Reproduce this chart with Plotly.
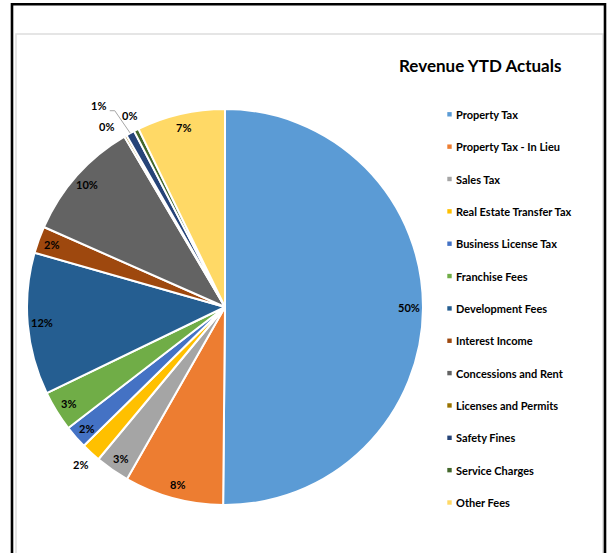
import math
import plotly.graph_objects as go

# ---------------- data ----------------
categories = [
    "Property Tax", "Property Tax - In Lieu", "Sales Tax", "Real Estate Transfer Tax",
    "Business License Tax", "Franchise Fees", "Development Fees", "Interest Income",
    "Concessions and Rent", "Licenses and Permits", "Safety Fines", "Service Charges",
    "Other Fees",
]
values = [50.2, 8.1, 2.8, 1.6, 1.9, 3.3, 11.6, 2.2, 9.9, 0.2, 0.7, 0.4, 7.2]
colors = [
    "#5B9BD5", "#ED7D31", "#A5A5A5", "#FFC000", "#4472C4", "#70AD47", "#255E91",
    "#9E480E", "#636363", "#997300", "#264478", "#43682B", "#FFD966",
]
title_text = "Revenue YTD Actuals"

# ---------------- layout helpers ----------------
W, H = 609, 553
CX, CY, R = 225, 307, 198
FONT = "Lato, 'Liberation Sans', sans-serif"


def px(x):
    return x / W


def py(y):
    return 1 - y / H


fig = go.Figure(go.Pie(
    labels=categories,
    values=values,
    marker=dict(colors=colors, line=dict(color="white", width=2)),
    sort=False,
    direction="clockwise",
    rotation=0,
    textinfo="none",
    hoverinfo="label+percent+value",
    domain=dict(x=[px(CX - R), px(CX + R)], y=[py(CY + R), py(CY - R)]),
    showlegend=False,
))

annotations = []
shapes = []

# label placement tweaks for the crowded small slices (angle offset deg, radius factor)
label_tweaks = {
    "Safety Fines": (-3.5, 1.2),
    "Licenses and Permits": (-3.0, 1.09),
}

# percentage labels computed from slice angles
total = sum(values)
cum = 0.0
for i, v in enumerate(values):
    frac = v / total
    mid = (cum + frac / 2) * 2 * math.pi
    cum += frac
    pct = f"{round(frac * 100):.0f}%"
    ang = mid
    rr = 0.93
    if categories[i] in label_tweaks:
        d, rr = label_tweaks[categories[i]]
        ang = mid + math.radians(d)
    elif frac < 0.017:
        rr = 1.08
    lx = CX + rr * R * math.sin(ang)
    ly = CY - rr * R * math.cos(ang)
    annotations.append(dict(
        x=px(lx), y=py(ly), xref="paper", yref="paper", text=f"<b>{pct}</b>",
        showarrow=False, xanchor="center", yanchor="middle",
        font=dict(family=FONT, size=11, color="#000000"),
    ))
    if categories[i] == "Safety Fines":
        ex = CX + R * math.sin(mid)
        ey = CY - R * math.cos(mid)
        path = (f"M {px(lx + 11)} {py(ly + 5)} L {px(lx + 16)} {py(ly + 5)} "
                f"L {px(ex)} {py(ey)}")
        shapes.append(dict(type="path", path=path, xref="paper", yref="paper",
                           line=dict(color="#A6A6A6", width=1)))

# legend drawn manually
LEG_X, LEG_Y0, LEG_DY = 449.5, 114.3, 32.35
for i, name in enumerate(categories):
    yy = LEG_Y0 + i * LEG_DY
    shapes.append(dict(type="rect", xref="paper", yref="paper",
                       x0=px(LEG_X - 2.2), x1=px(LEG_X + 2.2),
                       y0=py(yy + 2.2), y1=py(yy - 2.2),
                       fillcolor=colors[i], line=dict(width=0)))
    annotations.append(dict(
        x=px(454), y=py(yy), xref="paper", yref="paper", text=f"<b>{name}</b>",
        showarrow=False, xanchor="left", yanchor="middle",
        font=dict(family=FONT, size=11, color="#000000"),
    ))

# title
annotations.append(dict(
    x=px(480), y=py(66), xref="paper", yref="paper", text=f"<b>{title_text}</b>",
    showarrow=False, xanchor="center", yanchor="middle",
    font=dict(family=FONT, size=17, color="#000000"),
))

# frames
shapes.append(dict(type="rect", xref="paper", yref="paper",
                   x0=px(16), x1=px(603), y0=py(34), y1=py(620),
                   line=dict(color="#DDDDDD", width=1.5), layer="below"))
shapes.append(dict(type="rect", xref="paper", yref="paper",
                   x0=px(12), x1=px(605), y0=py(4.2), y1=py(620),
                   line=dict(color="#000000", width=2.6), layer="below"))

fig.update_layout(
    width=W, height=H,
    margin=dict(l=0, r=0, t=0, b=0),
    paper_bgcolor="white", plot_bgcolor="white",
    annotations=annotations, shapes=shapes,
)

fig.write_html("out.html")
